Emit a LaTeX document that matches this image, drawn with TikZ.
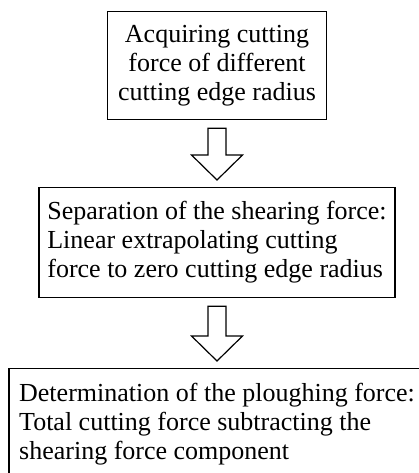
\documentclass[tikz,border=0pt]{standalone}
\usepackage{fontspec}
\setmainfont{Liberation Serif}
\usetikzlibrary{calc}

\tikzset{
  stepbox/.style={draw, line width=1.2pt, inner sep=0pt,
                  font=\fontsize{26}{29}\selectfont},
  hollow/.style={draw, line width=1.2pt, fill=white, line join=miter}
}

% hollow block arrow from the bottom of one box to the top of the next
\newcommand{\blockarrow}[2]{%
  \coordinate (s) at ($(#1.south)+(0,8)$);
  \coordinate (t) at ($(#2.north)+(0,-7)$);
  \draw[hollow] ($(s)+(-9,0)$) -- ($(s)+(9,0)$) -- ($(s |- t)+(9,-25)$)
    -- ($(s |- t)+(25.5,-25)$) -- (s |- t) -- ($(s |- t)+(-25.5,-25)$)
    -- ($(s |- t)+(-9,-25)$) -- cycle;
}

\begin{document}
\begin{tikzpicture}[x=1pt, y=-1pt]

\useasboundingbox (0,0) rectangle (419,473);
\clip (0,0) rectangle (419,473);

%% three steps, top to bottom
\node[stepbox, anchor=north, minimum width=219pt, minimum height=108pt, align=center]
  (acquire) at (217,11)
  {Acquiring cutting\\force of different\\cutting edge radius};

\node[stepbox, anchor=north, minimum width=356pt, minimum height=110pt, align=left]
  (separate) at (217,187)
  {Separation of the shearing force:\\Linear extrapolating cutting\\force to zero cutting edge radius};

\node[stepbox, anchor=north, minimum width=416pt, minimum height=112pt, align=left]
  (determine) at (217,368)
  {Determination of the ploughing force:\\Total cutting force subtracting the\\shearing force component};

%% arrows between the steps
\blockarrow{acquire}{separate}
\blockarrow{separate}{determine}

\end{tikzpicture}
\end{document}
